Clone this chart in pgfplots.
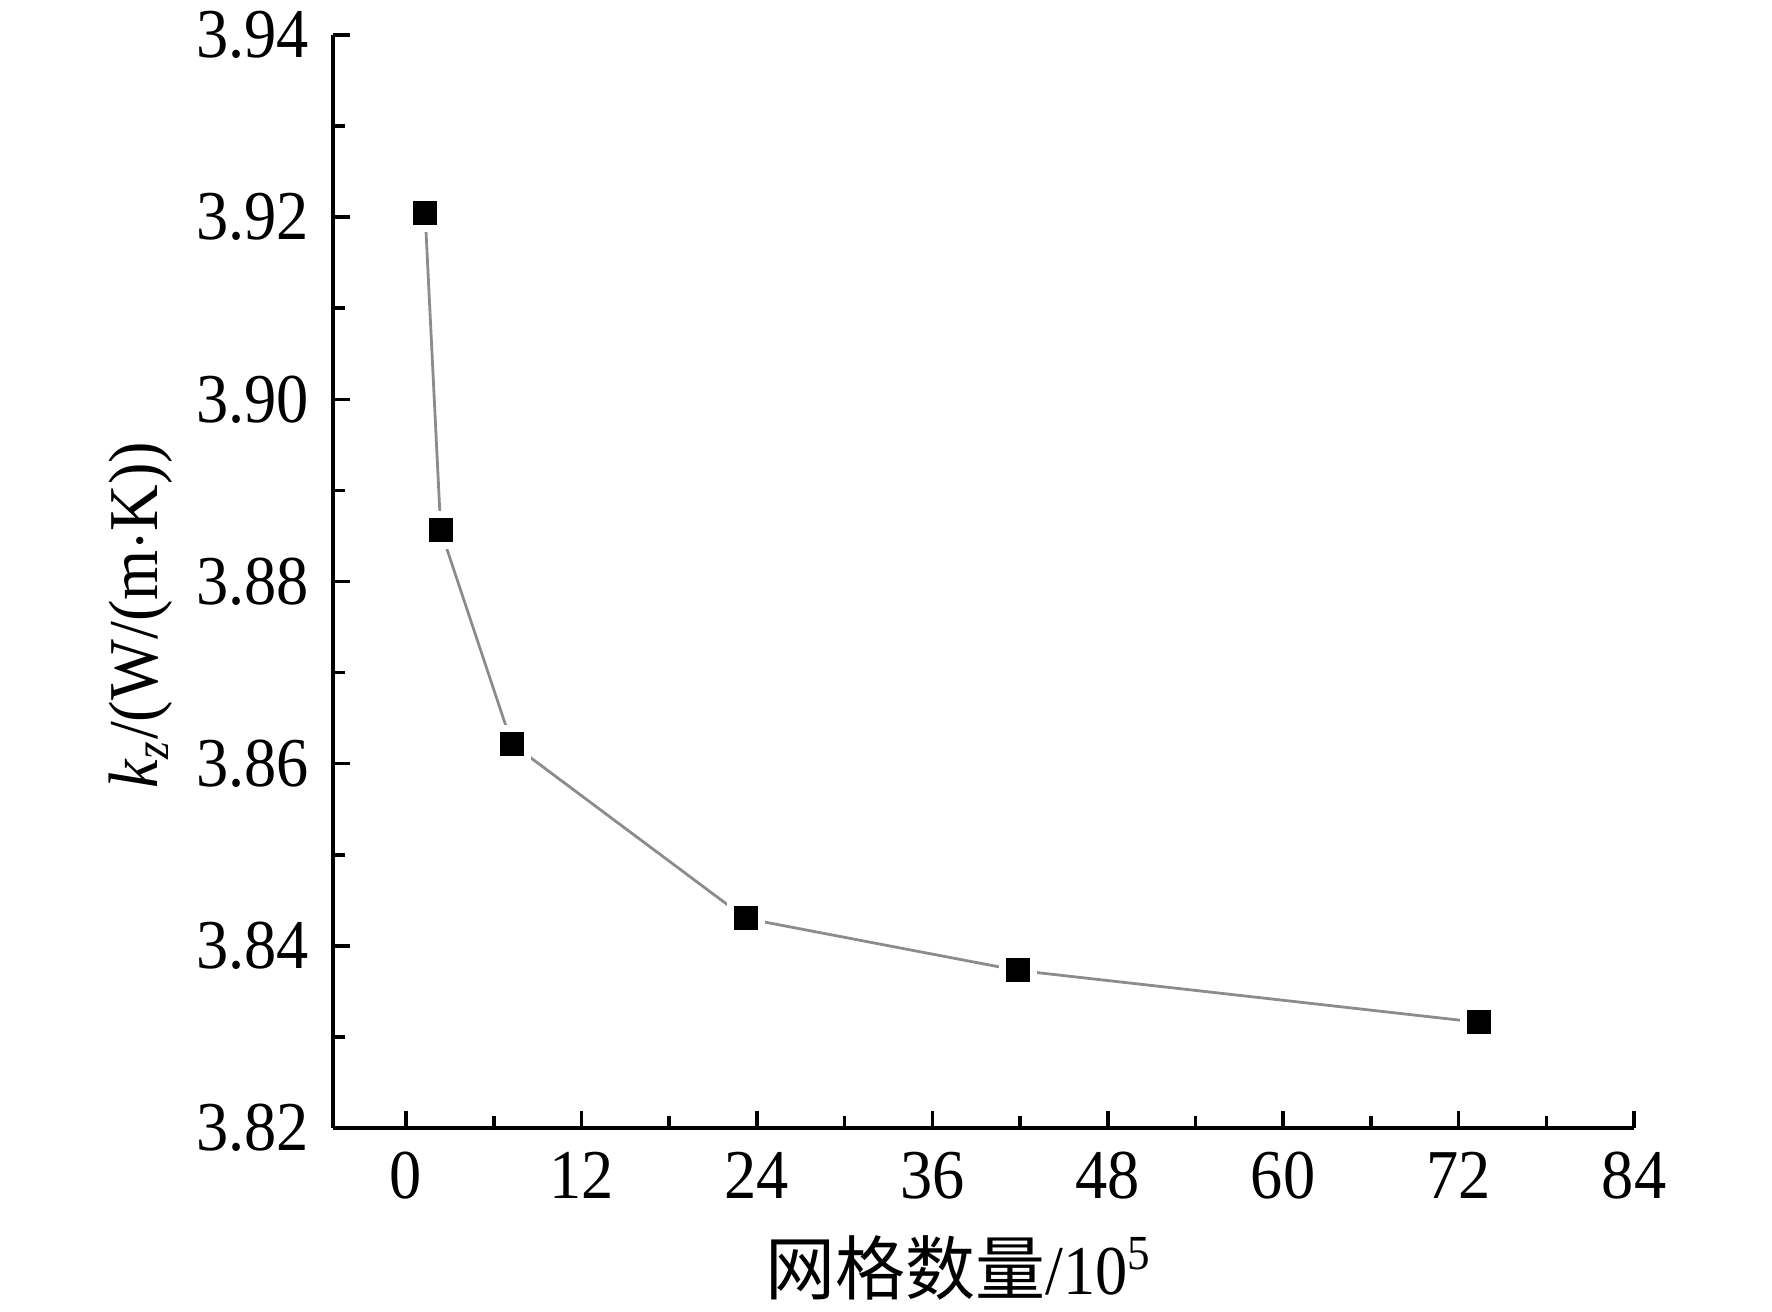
\documentclass[border=0pt]{standalone}
\usepackage{fontspec}
\setmainfont[FakeStretch=0.92]{Liberation Serif}
\newfontfamily\cjk{Noto Sans CJK SC}
\usepackage{pgfplots}
\pgfplotsset{compat=1.18}
\begin{document}
\fontsize{17.5pt}{21pt}\selectfont
\begin{tikzpicture}
\useasboundingbox (-83.25pt,-46pt) rectangle (359.75pt,282pt);
\begin{axis}[
  at={(0,0)}, anchor=south west,
  scale only axis,
  width=325.25pt, height=273.25pt,
  axis lines=left,
  axis line style={-, line width=1pt},
  xmin=-5, xmax=84,
  ymin=3.82, ymax=3.94,
  xtick={0,12,24,36,48,60,72,84},
  minor xtick={6,18,30,42,54,66,78},
  ytick={3.82,3.84,3.86,3.88,3.90,3.92,3.94},
  minor ytick={3.83,3.85,3.87,3.89,3.91,3.93},
  tick align=inside,
  major tick length=4.25pt,
  minor tick length=3pt,
  every tick/.style={black, line width=0.9pt},
  /pgf/number format/assume math mode=true,
  yticklabel style={/pgf/number format/.cd, fixed, fixed zerofill, precision=2},
  xticklabel style={/pgf/number format/.cd, fixed},
  tick label style={font=\fontsize{17.5pt}{21pt}\selectfont},
  xlabel={{\cjk 网格数量}/10\textsuperscript{5}},
  ylabel={\textit{k}\textsubscript{\textit{z}}/(W/(m$\cdot$K))},
  xlabel style={at={(axis description cs:0.481,-0.128)}, anchor=center},
  ylabel style={at={(axis description cs:-0.1476,0.469)}, anchor=center},
  clip=false,
]
\addplot[color=black!45, line width=0.7pt,
  mark=square*, mark size=3.875pt,
  mark options={fill=black, draw=white, line width=1.75pt}]
coordinates {
 (1.3,3.9205)
 (2.37,3.8856)
 (7.23,3.8622)
 (23.25,3.8430)
 (41.84,3.8373)
 (73.4,3.8316)
};
\end{axis}
\end{tikzpicture}
\end{document}
